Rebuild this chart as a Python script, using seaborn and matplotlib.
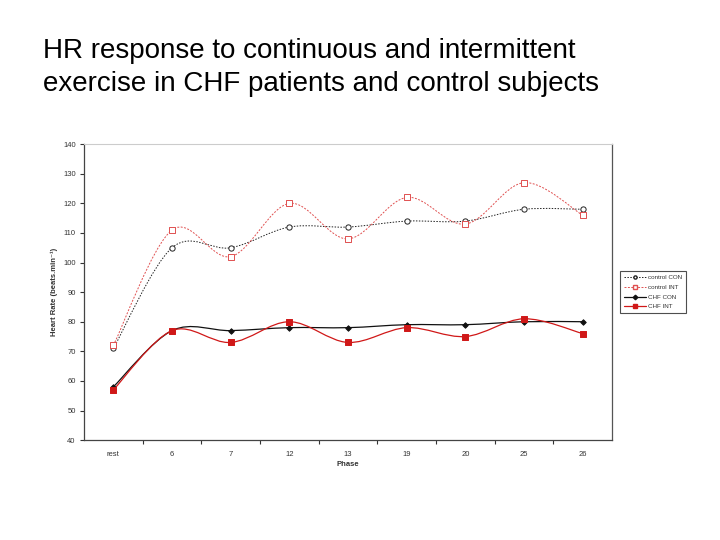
import numpy as np
import pandas as pd
import seaborn as sns
import matplotlib.pyplot as plt
from matplotlib.path import Path
from matplotlib.patches import PathPatch
from matplotlib.lines import Line2D


# Data
phases = ['rest', '6', '7', '12', '13', '19', '20', '25', '26']
control_con = [71, 105, 105, 112, 112, 114, 114, 118, 118]
control_int = [72, 111, 102, 120, 108, 122, 113, 127, 116]
chf_con = [58, 77, 77, 78, 78, 79, 79, 80, 80]
chf_int = [57, 77, 73, 80, 73, 78, 75, 81, 76]

series_names = ['control CON', 'control INT', 'CHF CON', 'CHF INT']
series_values = [control_con, control_int, chf_con, chf_int]

df = pd.DataFrame({
    'pos': np.tile(np.arange(len(phases)), len(series_names)),
    'hr': np.concatenate(series_values),
    'series': np.repeat(series_names, len(phases)),
})


def smooth_path(x, y):
    # Excel-like smoothed line as cubic Bezier segments through the points
    pts = np.column_stack([x, y]).astype(float)
    verts = [pts[0]]
    codes = [Path.MOVETO]
    n = len(pts)
    for i in range(n - 1):
        p0 = pts[max(i - 1, 0)]
        p1 = pts[i]
        p2 = pts[i + 1]
        p3 = pts[min(i + 2, n - 1)]
        c1 = p1 + (p2 - p0) / 6
        c2 = p2 - (p3 - p1) / 6
        verts += [c1, c2, p2]
        codes += [Path.CURVE4] * 3
    return Path(verts, codes)


sns.set_style('white')
plt.rcParams['font.family'] = ['Liberation Sans', 'DejaVu Sans']

fig = plt.figure(figsize=(7.2, 5.4), dpi=100)
ax = fig.add_axes([0.1167, 0.185, 0.7333, 0.548])

styles = {
    'control CON': dict(color='#222222', ls=(0, (1.5, 1.5)), lw=0.7, marker='o', mfc='white', ms=3.0),
    'control INT': dict(color='#e05050', ls=(0, (2, 1.5)), lw=0.7, marker='s', mfc='white', ms=3.0),
    'CHF CON': dict(color='#111111', ls='-', lw=0.9, marker='D', mfc='#111111', ms=2.2),
    'CHF INT': dict(color='#d01818', ls='-', lw=0.9, marker='s', mfc='#d01818', ms=3.0),
}

for name in series_names:
    st = styles[name]
    sub = df[df['series'] == name]
    patch = PathPatch(smooth_path(sub['pos'], sub['hr']), facecolor='none',
                      edgecolor=st['color'], lw=st['lw'], ls=st['ls'], zorder=2)
    ax.add_patch(patch)
    sns.scatterplot(data=sub, x='pos', y='hr', ax=ax, marker=st['marker'],
                    color=st['mfc'], edgecolor=st['color'], linewidth=0.7,
                    s=st['ms'] ** 2 * 1.6, zorder=3, legend=False)

ax.set_xlim(-0.5, len(phases) - 0.5)
ax.set_ylim(40, 140)
ax.set_yticks(range(40, 141, 10))
ax.set_xticks(range(len(phases)))
ax.set_xticklabels(phases)
ax.set_xticks(np.arange(0.5, len(phases) - 0.5, 1), minor=True)
ax.tick_params(axis='x', which='major', length=0, labelsize=5.5, pad=8, colors='#333333')
ax.tick_params(axis='x', which='minor', length=3, width=0.8, direction='out', color='#333333')
ax.tick_params(axis='y', length=3, width=0.8, direction='out', labelsize=5.5, pad=3, colors='#333333')
ax.tick_params(axis='both', which='both', bottom=True, left=True)

ax.set_xlabel('Phase', fontsize=5.5, fontweight='bold', color='#333333', labelpad=2)
ax.set_ylabel('Heart Rate (beats.min⁻¹)', fontsize=5.5, fontweight='bold', color='#333333', labelpad=4)

for side in ['left', 'bottom']:
    ax.spines[side].set_color('#444444')
    ax.spines[side].set_linewidth(0.9)
ax.spines['top'].set_color('#cccccc')
ax.spines['top'].set_linewidth(0.8)
ax.spines['right'].set_color('#555555')
ax.spines['right'].set_linewidth(0.9)

handles = []
for name in series_names:
    st = styles[name]
    handles.append(Line2D([], [], color=st['color'], ls=st['ls'], lw=st['lw'], marker=st['marker'],
                          mfc=st['mfc'], mec=st['color'], ms=2.3))
leg = ax.legend(handles, series_names, loc='center left', bbox_to_anchor=(1.01, 0.5),
                fontsize=4.5, frameon=True, fancybox=False, edgecolor='#222222',
                handlelength=3.5, borderpad=0.6, labelspacing=0.7, handletextpad=0.3)
leg.get_frame().set_linewidth(0.8)
for t in leg.get_texts():
    t.set_color('#333333')

fig.text(0.06, 0.93, 'HR response to continuous and intermittent\nexercise in CHF patients and control subjects',
         fontsize=20, va='top', ha='left', linespacing=1.38, color='black')

fig.savefig('out.png', dpi=100)
